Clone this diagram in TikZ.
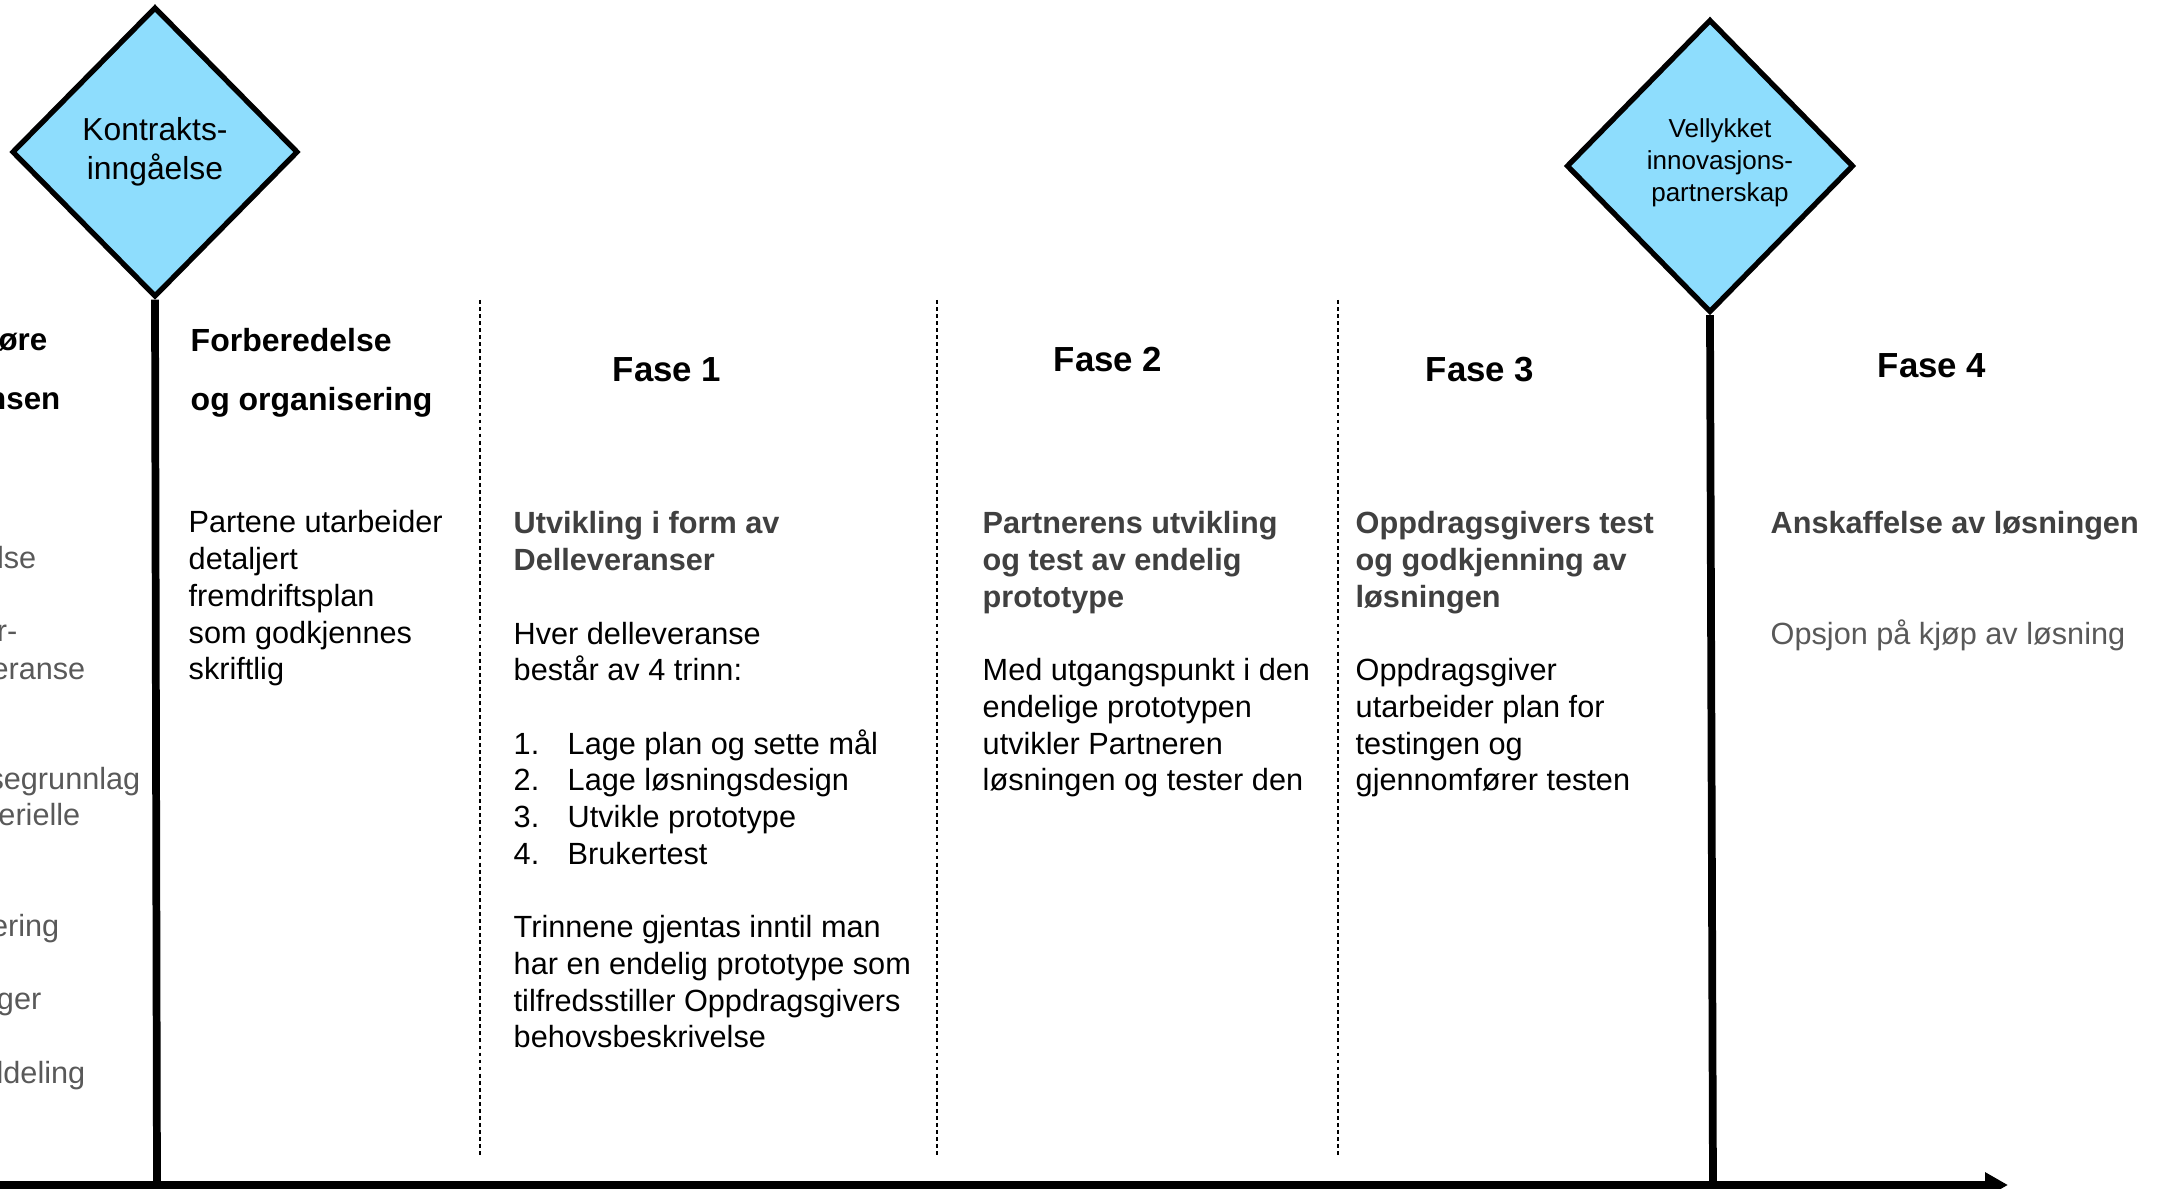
\documentclass[tikz,border=0pt]{standalone}
\usepackage{fontspec}
\setmainfont{Liberation Sans}
\usepackage{tikz}
\usetikzlibrary{positioning, arrows.meta, shapes.geometric}

\definecolor{msblue}{HTML}{8EDDFD}
\definecolor{subgray}{HTML}{404040}
\definecolor{fadegray}{HTML}{595959}

\newcommand{\bodyfont}{\fontsize{8.72pt}{10.44pt}\selectfont}
\newcommand{\subhd}[1]{\textcolor{subgray}{\bfseries #1}}
\newcommand{\trinn}[2]{\makebox[0.54cm][l]{#1}#2}

\begin{document}
\begin{tikzpicture}[x=0.01cm, y=-0.01cm,
  milestone/.style={diamond, draw, line width=1.5pt, fill=msblue, inner sep=0pt, align=center},
  stem/.style={line width=2.2pt},
  divider/.style={dash pattern=on 1.1pt off 0.9pt, line width=0.45pt},
  phase/.style={font=\bfseries\fontsize{9.9pt}{12pt}\selectfont},
  coltext/.style={anchor=north west, inner sep=0pt, align=left, font=\bodyfont},
  cut/.style={anchor=base east, inner sep=0pt, font=\bodyfont, text=fadegray}]
\useasboundingbox (0,0) rectangle (2162,1189);

% Milestones
\node[milestone, minimum width=2.86cm, minimum height=2.9cm,
  font=\fontsize{9.05pt}{11.1pt}\selectfont] (kontrakt) at (155,152) {Kontrakts-\\inngåelse};
\node[milestone, minimum width=2.87cm, minimum height=2.93cm] (partnerskap) at (1710,166) {};
\node[align=center, inner sep=0pt, font=\fontsize{7.4pt}{9.1pt}\selectfont]
  (partnerskaptekst) at (1720,163) {Vellykket\\innovasjons-\\partnerskap};

% Timeline
\coordinate (tidstart) at (-10,1185);
\coordinate (tidslutt) at (2008,1185);
\coordinate (kontraktfot) at (157,1185);
\coordinate (partnerfot) at (1713,1185);
\draw[stem] (kontrakt.south) -- (kontraktfot);
\draw[stem] (partnerskap.south) -- (partnerfot);
\draw[line width=2pt, -{Triangle[length=6.5pt, width=6.8pt]}] (tidstart) -- (tidslutt);

% Dividers
\foreach \x in {480, 937, 1338}
  \draw[divider] (\x,300) -- (\x,1158);

% Previous phase (cut off at the left edge)
\node[cut, text=black, font=\fontsize{8.9pt}{10pt}\selectfont\bfseries] (kutt1) at (48,351) {øre};
\node[cut, text=black, font=\fontsize{8.9pt}{10pt}\selectfont\bfseries] (kutt2) at (61,410) {nsen};
\node[cut] (kutt3) at (37,569) {lse};
\node[cut] (kutt4) at (18,642) {r-};
\node[cut] (kutt5) at (86,680) {eranse};
\node[cut] (kutt6) at (141,790) {segrunnlag};
\node[cut] (kutt7) at (81,826) {erielle};
\node[cut] (kutt8) at (60,937) {ering};
\node[cut] (kutt9) at (42,1010) {ger};
\node[cut] (kutt10) at (86,1084) {ldeling};

% Preparation
\node[coltext, font=\fontsize{9.1pt}{16.8pt}\selectfont\bfseries] (forb) at (190,328)
  {Forberedelse\\og organisering};
\node[coltext] (forbtekst) at (188,510)
  {Partene utarbeider\\detaljert\\fremdriftsplan\\som godkjennes\\skriftlig};

% Phase headings
\node[phase] (fase1) at (667,370) {Fase 1};
\node[phase] (fase2) at (1108,360) {Fase 2};
\node[phase] (fase3) at (1480,370) {Fase 3};
\node[phase] (fase4) at (1932,366) {Fase 4};

% Phase texts
\node[coltext] (tekst1) at (513,511)
  {\subhd{Utvikling i form av}\\\subhd{Delleveranser}\\[10.44pt]
   Hver delleveranse\\består av 4 trinn:\\[10.44pt]
   \trinn{1.}{Lage plan og sette mål}\\\trinn{2.}{Lage løsningsdesign}\\
   \trinn{3.}{Utvikle prototype}\\\trinn{4.}{Brukertest}\\[10.44pt]
   Trinnene gjentas inntil man\\har en endelig prototype som\\
   tilfredsstiller Oppdragsgivers\\behovsbeskrivelse};
\node[coltext] (tekst2) at (982,511)
  {\subhd{Partnerens utvikling}\\\subhd{og test av endelig}\\\subhd{prototype}\\[10.44pt]
   Med utgangspunkt i den\\endelige prototypen\\utvikler Partneren\\løsningen og tester den};
\node[coltext] (tekst3) at (1355,511)
  {\subhd{Oppdragsgivers test}\\\subhd{og godkjenning av}\\\subhd{løsningen}\\[10.44pt]
   Oppdragsgiver\\utarbeider plan for\\testingen og\\gjennomfører testen};
\node[coltext] (tekst4) at (1770,511)
  {\subhd{Anskaffelse av løsningen}\\[20.88pt]
   \textcolor{fadegray}{Opsjon på kjøp av løsning}};
\end{tikzpicture}
\end{document}
